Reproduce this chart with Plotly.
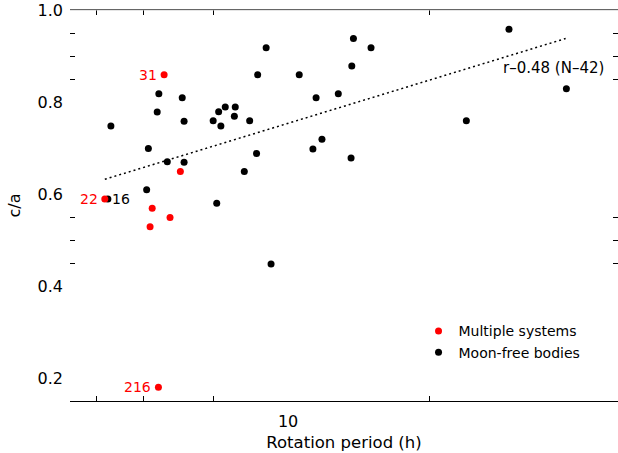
import numpy as np
import plotly.graph_objects as go

# ---- data ----
# Multiple systems (red)
multi_period = [5.94, 6.36, 4.63, 5.65, 6.09, 5.60, 5.80]
multi_ca = [0.859, 0.649, 0.589, 0.569, 0.549, 0.529, 0.180]
multi_labels = ["31", "", "22", "", "", "", "216"]

# Moon-free bodies (black)
free_period = [4.69, 5.81, 6.41, 5.77, 4.75, 6.46, 7.30, 7.47, 7.68, 8.01,
               7.98, 8.51, 7.54, 5.56, 6.02, 6.46, 5.52, 7.41, 9.31, 9.12,
               8.80, 10.48, 13.16, 14.17, 13.07, 11.25, 12.35, 11.53, 11.10, 8.76,
               13.03, 8.32, 25.3, 32.2, 21.15]
free_ca = [0.589, 0.818, 0.809, 0.778, 0.748, 0.758, 0.759, 0.779, 0.789, 0.789,
           0.769, 0.759, 0.748, 0.699, 0.670, 0.669, 0.609, 0.580, 0.448, 0.918,
           0.859, 0.859, 0.938, 0.918, 0.878, 0.809, 0.818, 0.719, 0.698, 0.688,
           0.678, 0.649, 0.958, 0.829, 0.759]
free_labels = ["16"] + [""] * 34

# Linear fit (c/a vs log period)
fit_period = [4.63, 32.1]
fit_ca = [0.632, 0.938]
fit_label = "r–0.48 (N–42)"

# Axis ticks
x_label_vals = [10]
x_label_text = ["10"]
x_minor_vals = [4.48, 5.44, 7.30, 18.08]
y_label_vals = [0.2, 0.4, 0.6, 0.8, 1.0]
y_label_text = ["0.2", "0.4", "0.6", "0.8", "1.0"]
y_minor_vals = [0.45, 0.5, 0.55, 0.85, 0.9, 0.95]

FONT = "DejaVu Sans"
RED = "#ff0000"

fig = go.Figure()

fig.add_trace(go.Scatter(
    x=fit_period, y=fit_ca, mode="lines",
    line=dict(color="black", width=1.5, dash="2px,3px"),
    showlegend=False, hoverinfo="skip"))

fig.add_trace(go.Scatter(
    x=free_period, y=free_ca, mode="markers", name="Moon-free bodies",
    marker=dict(color="black", size=7), legendrank=2))

fig.add_trace(go.Scatter(
    x=multi_period, y=multi_ca, mode="markers", name="Multiple systems",
    marker=dict(color=RED, size=7), legendrank=1))

annotations = []
for px, cy, lab in zip(multi_period, multi_ca, multi_labels):
    if lab:
        annotations.append(dict(x=np.log10(px), y=cy, xref="x", yref="y", text=lab,
                                showarrow=False, xanchor="right", yanchor="middle",
                                xshift=-5, font=dict(color=RED, size=14, family=FONT)))
for px, cy, lab in zip(free_period, free_ca, free_labels):
    if lab:
        annotations.append(dict(x=np.log10(px), y=cy, xref="x", yref="y", text=lab,
                                showarrow=False, xanchor="left", yanchor="middle",
                                xshift=2, font=dict(color="black", size=14, family=FONT)))
annotations.append(dict(x=0.978, y=0.852, xref="paper", yref="paper", text=fit_label,
                        showarrow=False, xanchor="right", yanchor="middle",
                        font=dict(color="black", size=15, family=FONT)))

fig.update_layout(
    width=618, height=453,
    margin=dict(l=70, r=0, t=10, b=52),
    paper_bgcolor="white", plot_bgcolor="white",
    font=dict(family=FONT, color="black", size=16),
    annotations=annotations,
    shapes=[dict(type="line", xref="paper", yref="paper", x0=0, x1=1, y0=1, y1=1,
                 line=dict(color="#cccccc", width=1))],
    legend=dict(x=0.636, y=0.219, xanchor="left", yanchor="top",
                font=dict(size=14, family=FONT), bgcolor="rgba(0,0,0,0)",
                borderwidth=0, itemwidth=30),
    xaxis=dict(
        type="log", range=[np.log10(4), np.log10(40)],
        showgrid=False, zeroline=False,
        showline=True, linecolor="black", linewidth=1, mirror="ticks",
        ticks="inside", ticklen=0, tickmode="array",
        tickvals=x_label_vals, ticktext=x_label_text,
        ticklabelstandoff=6,
        minor=dict(tickmode="array", tickvals=x_minor_vals, ticks="inside",
                   ticklen=5, tickcolor="black", tickwidth=1, showgrid=False),
        title=dict(text="Rotation period (h)", standoff=6, font=dict(size=16.5)),
        automargin=False,
    ),
    yaxis=dict(
        range=[0.15, 1.0],
        showgrid=False, zeroline=False, showline=False, mirror="ticks",
        ticks="inside", ticklen=0, tickmode="array",
        tickvals=y_label_vals, ticktext=y_label_text,
        ticklabelstandoff=6,
        minor=dict(tickmode="array", tickvals=y_minor_vals, ticks="inside",
                   ticklen=5, tickcolor="black", tickwidth=1, showgrid=False),
        title=dict(text="c/a", standoff=12, font=dict(size=16)),
        automargin=False,
    ),
)

fig.write_html("out.html")
